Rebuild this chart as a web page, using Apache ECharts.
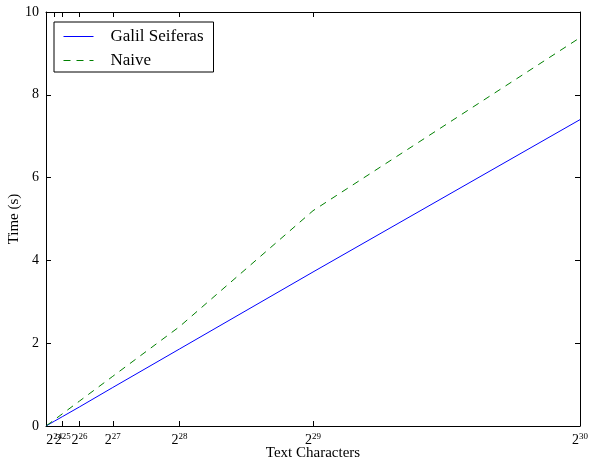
<!DOCTYPE html>
<html>
<head>
<meta charset="utf-8">
<script src="https://cdn.jsdelivr.net/npm/echarts@6/dist/echarts.min.js"></script>
<style>html,body{margin:0;padding:0;background:#fff}#c{width:589px;height:461px}</style>
</head>
<body>
<div id="c"></div>
<script>
// Data
var exponents = [20, 21, 22, 23, 24, 25, 26, 27, 28, 29, 30];
var galilSeiferas = [0.007, 0.014, 0.029, 0.058, 0.116, 0.23, 0.46, 0.93, 1.86, 3.72, 7.40];
var naive = [0.009, 0.018, 0.037, 0.075, 0.15, 0.30, 0.60, 1.20, 2.40, 5.20, 9.38];
var tickExponents = [24, 25, 26, 27, 28, 29, 30];
var yTicks = [0, 2, 4, 6, 8, 10];
var seriesNames = ['Galil Seiferas', 'Naive'];

var serif = '"Liberation Serif", "DejaVu Serif", serif';
var xs = exponents.map(function (e) { return Math.pow(2, e); });
var tickVals = tickExponents.map(function (e) { return Math.pow(2, e); });
function pairs(vals) { return xs.map(function (x, i) { return [x, vals[i]]; }); }

var chart = echarts.init(document.getElementById('c'));
var axisLineStyle = { color: '#000', width: 1 };
var xBase = {
  type: 'value', min: 0, max: Math.pow(2, 30),
  splitLine: { show: false },
  axisLine: { show: true, onZero: false, lineStyle: axisLineStyle },
  axisTick: { show: true, inside: true, length: 5, lineStyle: { color: '#000' }, customValues: tickVals },
};
var yBase = {
  type: 'value', min: 0, max: 10, interval: 2,
  splitLine: { show: false },
  axisLine: { show: true, onZero: false, lineStyle: axisLineStyle },
  axisTick: { show: true, inside: true, length: 5, lineStyle: { color: '#000' } },
};
var xLabelStyle = function (vals) {
  return {
    customValues: vals, margin: 6, color: '#000', interval: 0, hideOverlap: false,
    formatter: function (v) { return '{b|2}{s|' + Math.round(Math.log2(v)) + '}'; },
    rich: {
      b: { fontFamily: serif, fontSize: 14, color: '#000' },
      s: { fontFamily: serif, fontSize: 9, color: '#000', padding: [0, 0, 8, 0] }
    }
  };
};
chart.setOption({
  animation: false,
  backgroundColor: '#fff',
  grid: { left: 46, right: 9, top: 12, bottom: 35, containLabel: false, outerBoundsMode: 'none' },
  legend: {
    data: [
      { name: seriesNames[0] },
      { name: seriesNames[1] }
    ],
    icon: 'inherit',
    itemStyle: { color: 'rgba(0,0,0,0)', borderWidth: 0, opacity: 0 },
    lineStyle: { width: 1 },
    orient: 'vertical', left: 54, top: 22,
    padding: [6, 7, 3, 9],
    itemGap: 7, itemWidth: 30, itemHeight: 14,
    borderColor: '#000', borderWidth: 1, borderRadius: 0,
    textStyle: { fontFamily: serif, fontSize: 17, lineHeight: 16, color: '#000', padding: [0, 0, 0, 12], width: 96 }
  },
  xAxis: [
    Object.assign({}, xBase, {
      position: 'bottom',
      name: 'Text Characters', nameLocation: 'middle', nameGap: 20, nameMoveOverlap: false,
      nameTextStyle: { fontFamily: serif, fontSize: 15, color: '#000' },
      axisLabel: xLabelStyle(tickVals)
    }),
    Object.assign({}, xBase, { position: 'top', axisLabel: { show: false } }),
    Object.assign({}, xBase, {
      position: 'bottom',
      axisLine: { show: false }, axisTick: { show: false },
      axisLabel: xLabelStyle([tickVals[0]])
    })
  ],
  yAxis: [
    Object.assign({}, yBase, {
      position: 'left',
      name: 'Time (s)', nameLocation: 'middle', nameGap: 24, nameMoveOverlap: false,
      nameTextStyle: { fontFamily: serif, fontSize: 15, color: '#000' },
      axisLabel: { fontFamily: serif, fontSize: 14, color: '#000', margin: 7,
        customValues: yTicks }
    }),
    Object.assign({}, yBase, { position: 'right', axisLabel: { show: false } })
  ],
  series: [
    {
      name: seriesNames[0], type: 'line', data: pairs(galilSeiferas),
      symbol: 'none', color: '#0000ff',
      lineStyle: { color: '#0000ff', width: 1, type: 'solid' }
    },
    {
      name: seriesNames[1], type: 'line', data: pairs(naive),
      symbol: 'none', color: '#008000',
      lineStyle: { color: '#008000', width: 1, type: [7, 6] }
    }
  ]
});
</script>
</body>
</html>
